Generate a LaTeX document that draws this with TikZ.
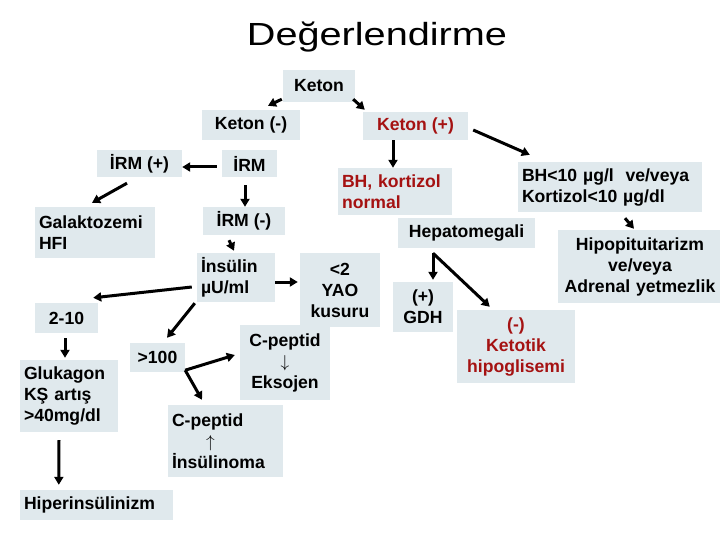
\documentclass[tikz,border=0pt]{standalone}
\usepackage{fontspec}
\setmainfont{Liberation Sans}
\usetikzlibrary{arrows.meta}
\definecolor{boxc}{RGB}{224,233,237}
\definecolor{redt}{RGB}{165,18,18}
\tikzset{
  bx/.style={fill=boxc, inner xsep=4pt, inner ysep=0pt, font=\bfseries\fontsize{17.6}{21}\selectfont, align=center},
  lbx/.style={bx, align=left},
  arr/.style={line width=3pt, -{Triangle[length=8pt,width=9pt]}},
}
\begin{document}
\begin{tikzpicture}[x=1pt,y=-1pt]
\useasboundingbox (0,0) rectangle (720,540);
\node (title) at (377,37) {\fontsize{32}{36}\selectfont\scalebox{1.24}[1]{Değerlendirme}};
\node[bx, minimum width=72, minimum height=32] (keton) at (319,86) {Keton};
\node[bx, minimum width=98, minimum height=30] (ketonm) at (251,125) {Keton (-)};
\node[bx, minimum width=105, minimum height=28, text=redt] (ketonp) at (415.5,126) {Keton (+)};
\node[bx, minimum width=85, minimum height=27] (irmp) at (139.5,163.5) {İRM (+)};
\node[bx, minimum width=55, minimum height=27] (irm) at (249.5,163.5) {İRM};
\node[lbx, text width=112, minimum height=51] (galak) at (95,232.5) {Galaktozemi\\HFI};
\node[bx, minimum width=82, minimum height=28] (irmm) at (244,221) {İRM (-)};
\node[lbx, text width=70, minimum height=49] (insulin) at (236,277.5) {İnsülin\\µU/ml};
\node[bx, text width=72, minimum height=74] (yao) at (340,290) {<2\\YAO\\kusuru};
\node[bx, text width=82, minimum height=75] (cpe) at (285,362.5) {C-peptid\\{\mdseries$\downarrow$}\\Eksojen};
\node[bx, minimum width=63, minimum height=30] (two10) at (66.5,318) {2-10};
\node[bx, minimum width=55, minimum height=29] (gt100) at (157.5,357.5) {>100};
\node[lbx, text width=107, minimum height=72] (cpi) at (225.5,441) {C-peptid\\\hspace*{34pt}{\mdseries$\uparrow$}\\İnsülinoma};
\node[lbx, text width=90, minimum height=72] (gluk) at (69,396) {Glukagon\\KŞ artış\\>40mg/dl};
\node[lbx, text width=145, minimum height=30] (hiper) at (96.5,505) {Hiperinsülinizm};
\node[lbx, text width=106, minimum height=47, text=redt] (bhn) at (395,191.5) {BH, kortizol\\normal};
\node[lbx, text width=176, minimum height=50] (bh10) at (610,187) {BH<10 µg/l\ \ ve/veya\\Kortizol<10 µg/dl};
\node[bx, text width=156, minimum height=73] (hipo) at (640,266.5) {Hipopituitarizm\\ve/veya\\Adrenal yetmezlik};
\node[bx, minimum width=137, minimum height=30] (hepato) at (466.5,233) {Hepatomegali};
\node[bx, text width=52, minimum height=50] (gdh) at (423,307) {(+)\\GDH};
\node[bx, text width=110, minimum height=73, text=redt] (ketotik) at (516,346.5) {(-)\\Ketotik\\hipoglisemi};

\draw[arr] ([shift={(-1,-3)}]keton.south west) -- ([shift={(17,-4)}]ketonm.north);
\draw[arr] ([shift={(-2,-3)}]keton.south east) -- ([shift={(2,-2)}]ketonp.north west);
\draw[arr] ([shift={(-22.5,0)}]ketonp.south) -- ([shift={(-2,0)}]bhn.north);
\draw[arr] ([shift={(5,4)}]ketonp.east) -- ([shift={(12,-7)}]bh10.north west);
\draw[arr] ([shift={(-5,3.5)}]irm.west) -- ([shift={(0,3.5)}]irmp.east);
\draw[arr] ([shift={(-4.5,8)}]irm.south) -- ([shift={(1,0)}]irmm.north);
\draw[arr] ([shift={(-12.5,6)}]irmp.south) -- ([shift={(-3,-4)}]galak.north);
\draw[arr] ([shift={(-15,5)}]irmm.south) -- ([shift={(-2,-2)}]insulin.north);
\draw[arr] ([shift={(0,4.5)}]insulin.east) -- ([shift={(-2,-8)}]yao.west);
\draw[arr] ([shift={(-5,9.5)}]insulin.west) -- ([shift={(-5,-5)}]two10.north east);
\draw[arr] ([shift={(-2,1)}]insulin.south west) -- ([shift={(9.5,-5)}]gt100.north);
\draw[arr] ([shift={(0,-2)}]gt100.south east) -- ([shift={(-5,-7.5)}]cpe.west);
\draw[arr] ([shift={(0,-2)}]gt100.south east) -- ([shift={(-23.5,-5)}]cpi.north);
\draw[arr] ([shift={(-1.5,5)}]two10.south) -- ([shift={(-4,-2)}]gluk.north);
\draw[arr] ([shift={(-10,8)}]gluk.south) -- ([shift={(39,-5)}]hiper.north west);
\draw[arr] ([shift={(15,6)}]bh10.south) -- ([shift={(-6,-1)}]hipo.north);
\draw[arr] ([shift={(-33.5,5)}]hepato.south) -- ([shift={(10,-2)}]gdh.north);
\draw[arr] ([shift={(-33.5,5)}]hepato.south) -- ([shift={(33,-3)}]ketotik.north west);
\end{tikzpicture}
\end{document}
